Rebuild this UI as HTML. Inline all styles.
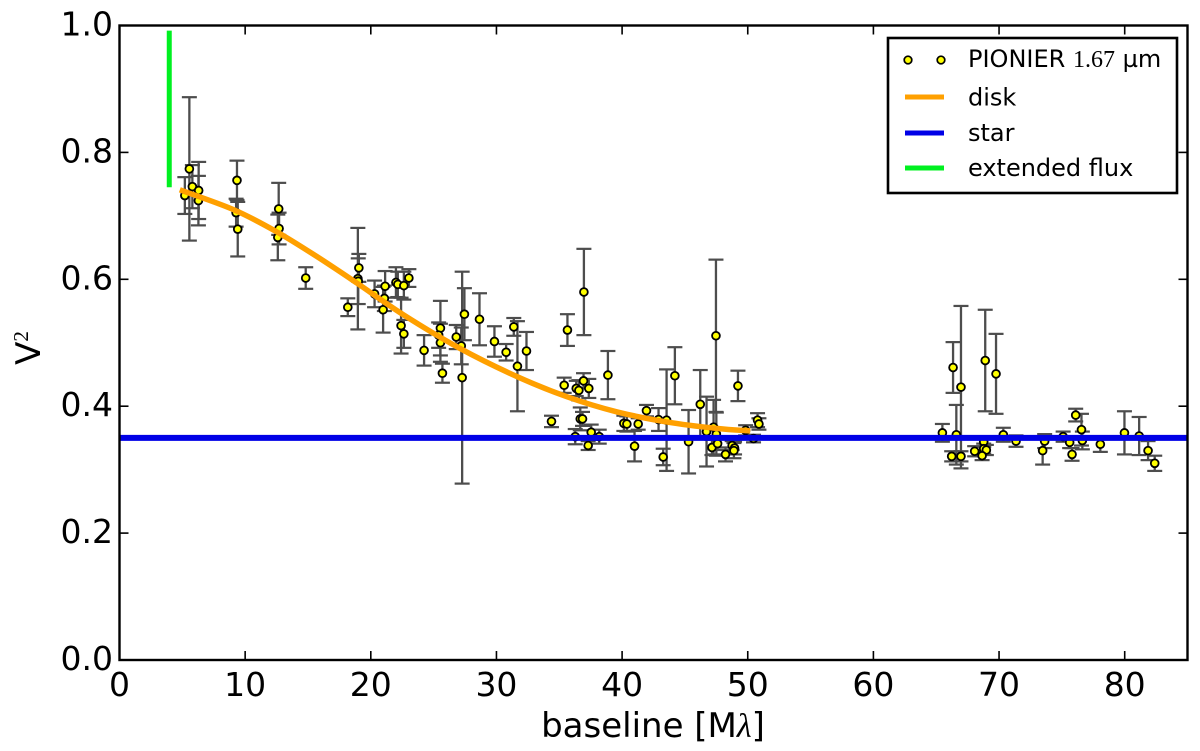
<!DOCTYPE html>
<html>
<head>
<meta charset="utf-8">
<title>V2 vs baseline</title>
<style>
html,body{margin:0;padding:0;background:#fff;width:1200px;height:751px;overflow:hidden}
svg{display:block}
text{font-family:"DejaVu Sans","Liberation Sans",sans-serif;fill:#000}
</style>
</head>
<body>
<svg id="chart" width="1200" height="751" viewBox="0 0 1200 751" xmlns="http://www.w3.org/2000/svg">
  <rect x="0" y="0" width="1200" height="751" fill="#fff"/>
  <g id="series"></g>
  <rect x="119.5" y="25.5" width="1068" height="634.5" fill="none" stroke="#000" stroke-width="2.4"/>
  <g id="ticks"></g>
  <text x="653" y="737" font-size="34" text-anchor="middle">baseline [M<tspan font-family="'Liberation Serif',serif" font-style="italic">λ</tspan>]</text>
  <text transform="translate(40,348) rotate(-90)" font-size="34" text-anchor="middle">V<tspan font-family="'Liberation Serif',serif" font-size="21" dy="-12">2</tspan></text>
  <g>
    <rect x="888" y="38" width="289" height="155" fill="#fff" stroke="#000" stroke-width="2.6"/>
    <circle cx="908" cy="60" r="3.8" fill="#ff0" stroke="#000" stroke-width="1.7"/>
    <circle cx="941" cy="60" r="3.8" fill="#ff0" stroke="#000" stroke-width="1.7"/>
    <text x="968" y="67" font-size="24">PIONIER <tspan font-family="'Liberation Serif',serif">1.67</tspan> µm</text>
    <line x1="905" y1="97" x2="944" y2="97" stroke="#ffa000" stroke-width="5"/>
    <text x="968" y="105.5" font-size="24">disk</text>
    <line x1="905" y1="133" x2="944" y2="133" stroke="#0000e6" stroke-width="5"/>
    <text x="968" y="141" font-size="24">star</text>
    <line x1="905" y1="168" x2="944" y2="168" stroke="#00f020" stroke-width="5"/>
    <text x="968" y="176" font-size="24">extended flux</text>
  </g>
</svg>
<script>
const xTicks = [0, 10, 20, 30, 40, 50, 60, 70, 80];
const yTicks = [0.0, 0.2, 0.4, 0.6, 0.8, 1.0];
const baselines = [5.56,5.2,5.8,6.3,6.28,9.35,9.28,9.41,12.67,12.7,12.6,14.82,18.17,19.05,18.97,19.0,20.3,21.08,21.14,20.98,22.0,22.15,22.63,23.03,22.41,22.63,24.24,25.54,25.4,25.54,26.8,25.7,27.27,27.45,27.2,28.65,29.84,30.77,31.38,31.67,32.39,34.38,35.65,36.96,35.39,36.35,36.56,36.93,37.35,38.87,36.67,36.85,37.54,36.27,38.18,37.3,40.14,40.38,41.28,40.99,41.94,42.9,43.54,43.27,44.2,45.29,46.22,46.72,47.15,47.28,47.47,47.5,47.6,48.23,48.76,48.95,48.9,49.22,49.83,50.46,50.78,50.89,65.49,66.34,66.6,66.23,66.97,66.97,68.9,69.76,68.06,68.78,68.78,68.99,68.65,70.34,71.35,73.47,73.63,75.1,75.62,75.81,76.1,76.56,76.63,78.06,79.98,81.15,81.86,82.39];
const v2Values = [0.774,0.732,0.746,0.74,0.724,0.756,0.705,0.679,0.711,0.68,0.666,0.602,0.556,0.618,0.601,0.597,0.577,0.57,0.589,0.552,0.595,0.592,0.59,0.602,0.527,0.514,0.488,0.523,0.512,0.5,0.509,0.452,0.445,0.545,0.495,0.537,0.502,0.485,0.525,0.463,0.487,0.376,0.52,0.58,0.433,0.428,0.425,0.44,0.428,0.449,0.38,0.38,0.359,0.352,0.352,0.338,0.373,0.372,0.372,0.337,0.393,0.379,0.378,0.32,0.448,0.344,0.403,0.36,0.335,0.367,0.511,0.356,0.341,0.324,0.338,0.334,0.33,0.432,0.362,0.349,0.378,0.372,0.358,0.461,0.355,0.321,0.43,0.321,0.472,0.451,0.329,0.344,0.333,0.331,0.322,0.355,0.345,0.33,0.345,0.352,0.343,0.324,0.386,0.363,0.346,0.34,0.358,0.353,0.33,0.31];
const v2Errors = [0.113,0.029,0.034,0.045,0.039,0.031,0.022,0.043,0.041,0.025,0.036,0.017,0.014,0.022,0.08,0.036,0.021,0.02,0.024,0.036,0.024,0.02,0.022,0.014,0.044,0.022,0.024,0.043,0.02,0.03,0.019,0.015,0.167,0.041,0.029,0.041,0.024,0.013,0.014,0.071,0.03,0.009,0.025,0.068,0.012,0.012,0.016,0.012,0.015,0.038,0.018,0.011,0.012,0.012,0.011,0.007,0.012,0.012,0.009,0.024,0.009,0.018,0.08,0.013,0.045,0.05,0.054,0.055,0.012,0.043,0.12,0.034,0.01,0.011,0.007,0.01,0.012,0.024,0.008,0.006,0.011,0.009,0.014,0.04,0.047,0.008,0.128,0.008,0.08,0.063,0.008,0.008,0.008,0.008,0.007,0.011,0.009,0.022,0.011,0.008,0.009,0.01,0.01,0.025,0.014,0.012,0.034,0.03,0.015,0.012];
const diskBaselines = [4.8,9.05,12.5,15.7,18.9,22.6,27.1,31.6,35.6,39.6,43.6,47.5,50.2];
const diskValues = [0.741,0.71,0.675,0.636,0.594,0.544,0.491,0.447,0.415,0.391,0.375,0.365,0.361];
const starLevel = [0.35];
const extendedFluxBaseline = [3.96];
const extendedFluxRange = [0.745, 0.992];

const SVGNS = 'http://www.w3.org/2000/svg';
const xScale = v => 119.5 + v * 12.565;
const yScale = v => 660 - v * 634.5;
const seriesGroup = document.getElementById('series');
const ticksGroup = document.getElementById('ticks');

function make(tag, parent) {
  const el = document.createElementNS(SVGNS, tag);
  parent.appendChild(el);
  return el;
}
function setLine(el, x1, y1, x2, y2, color, width) {
  el.setAttribute('x1', x1);
  el.setAttribute('y1', y1);
  el.setAttribute('x2', x2);
  el.setAttribute('y2', y2);
  el.setAttribute('stroke', color);
  el.setAttribute('stroke-width', width);
}

const ERR = '#4d4d4d';
baselines.forEach((b, i) => {
  const x = xScale(b);
  const top = yScale(v2Values[i] + v2Errors[i]);
  const bot = yScale(v2Values[i] - v2Errors[i]);
  const stem = make('line', seriesGroup);
  
  
  setLine(stem, x, top, x, bot, ERR, 2.3);
  const capTop = make('line', seriesGroup);
  
  
  setLine(capTop, x - 7.5, top, x + 7.5, top, ERR, 2.2);
  const capBot = make('line', seriesGroup);
  
  
  setLine(capBot, x - 7.5, bot, x + 7.5, bot, ERR, 2.2);
});
baselines.forEach((b, i) => {
  const dot = make('circle', seriesGroup);
  
  
  dot.setAttribute('cx', xScale(b));
  dot.setAttribute('cy', yScale(v2Values[i]));
  dot.setAttribute('r', 3.9);
  dot.setAttribute('fill', '#ffff00');
  dot.setAttribute('stroke', '#000');
  dot.setAttribute('stroke-width', 1.8);
});

function smoothPath(xs, ys) {
  const p = xs.map((v, i) => [xScale(v), yScale(ys[i])]);
  let d = 'M' + p[0][0] + ' ' + p[0][1];
  for (let i = 0; i < p.length - 1; i++) {
    const a = p[Math.max(i - 1, 0)], b = p[i], c = p[i + 1], e = p[Math.min(i + 2, p.length - 1)];
    d += ' C' + (b[0] + (c[0] - a[0]) / 6) + ' ' + (b[1] + (c[1] - a[1]) / 6) + ' ' +
      (c[0] - (e[0] - b[0]) / 6) + ' ' + (c[1] - (e[1] - b[1]) / 6) + ' ' + c[0] + ' ' + c[1];
  }
  return d;
}

const star = make('line', seriesGroup);


setLine(star, xScale(0), yScale(starLevel[0]), xScale(85), yScale(starLevel[0]), '#0000e6', 6);

const disk = make('path', seriesGroup);


disk.setAttribute('d', smoothPath(diskBaselines, diskValues));
disk.setAttribute('fill', 'none');
disk.setAttribute('stroke', '#ffa000');
disk.setAttribute('stroke-width', 5.5);

const flux = make('line', seriesGroup);


setLine(flux, xScale(extendedFluxBaseline[0]), yScale(extendedFluxRange[0]), xScale(extendedFluxBaseline[0]), yScale(extendedFluxRange[1]), '#00f020', 5);

xTicks.forEach(t => {
  const x = xScale(t);
  const bottomTick = make('line', ticksGroup);
  
  
  setLine(bottomTick, x, 660, x, 651, '#000', 1.6);
  const topTick = make('line', ticksGroup);
  
  
  setLine(topTick, x, 25.5, x, 34.5, '#000', 1.6);
  const label = make('text', ticksGroup);
  
  
  label.setAttribute('x', x);
  label.setAttribute('y', 696);
  label.setAttribute('font-size', 33);
  label.setAttribute('text-anchor', 'middle');
  label.textContent = String(t);
});
yTicks.forEach(t => {
  const y = yScale(t);
  const leftTick = make('line', ticksGroup);
  
  
  setLine(leftTick, 119.5, y, 128.5, y, '#000', 1.6);
  const rightTick = make('line', ticksGroup);
  
  
  setLine(rightTick, 1187.5, y, 1178.5, y, '#000', 1.6);
  const label = make('text', ticksGroup);
  
  
  label.setAttribute('x', 113);
  label.setAttribute('y', y + 10);
  label.setAttribute('font-size', 33);
  label.setAttribute('text-anchor', 'end');
  label.textContent = t.toFixed(1);
});
</script>
</body>
</html>
